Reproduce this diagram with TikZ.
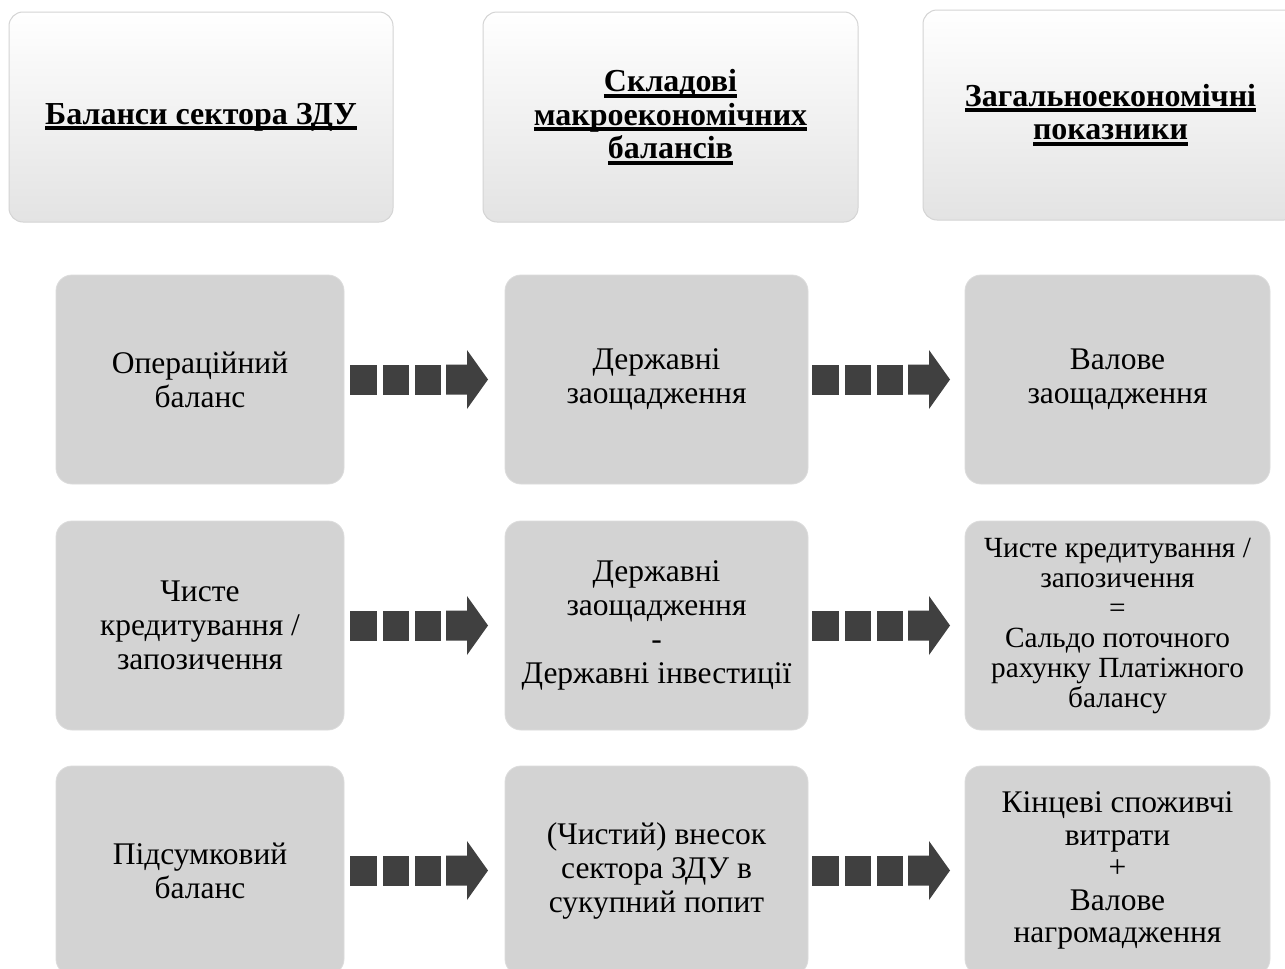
\documentclass[tikz,border=0pt]{standalone}
\usepackage{fontspec}
\setmainfont{Liberation Serif}
\usetikzlibrary{calc}
\definecolor{boxgray}{HTML}{D3D3D3}
\definecolor{boxline}{HTML}{DCDCDC}
\definecolor{arrowc}{HTML}{404040}
\definecolor{hdrline}{HTML}{D4D4D4}
\definecolor{hdrbot}{HTML}{E3E3E3}
\newcommand\hul[1]{\setbox0\hbox{#1}\rlap{\rule[-6pt]{\wd0}{4pt}}\box0}
\newcommand\blockarrow[2]{%
  \begin{scope}[shift={($(#1.east)!0.5!(#2.west)+(-5.5,0)$)}]
    \fill[arrowc] (-69,-15) rectangle (-42,15);
    \fill[arrowc] (-36,-15) rectangle (-10,15);
    \fill[arrowc] (-4,-15) rectangle (22,15);
    \fill[arrowc] (27,-15) -- (48,-15) -- (48,-29.5) -- (69,0) -- (48,29.5) -- (48,15) -- (27,15) -- cycle;
  \end{scope}}
\begin{document}
\begin{tikzpicture}[x=1pt,y=-1pt,
  hdr/.style={rectangle, rounded corners=14pt, draw=hdrline, line width=1pt,
    top color=white, middle color=white, bottom color=hdrbot,
    minimum height=210pt, align=center, inner sep=0pt,
    font=\fontsize{32}{33.5}\selectfont\bfseries},
  cell/.style={rectangle, rounded corners=16pt, fill=boxgray, draw=boxline, line width=0.8pt,
    minimum height=209pt, align=center, inner sep=0pt,
    font=\fontsize{31.5}{34}\selectfont},
  c1/.style={cell, minimum width=288pt},
  c2/.style={cell, minimum width=303pt},
  c3/.style={cell, minimum width=305pt}
]
\useasboundingbox (0,0) rectangle (1285,969);
\fill[white] (0,0) rectangle (1285,969);

\node[hdr, minimum width=384pt] (h1) at (201,117) {\hul{Баланси сектора ЗДУ}};
\node[hdr, minimum width=375pt] (h2) at (670.5,117) {\hul{Складові}\\\hul{макроекономічних}\\\hul{балансів}};
\node[hdr, minimum width=375pt] (h3) at (1110.5,115) {\hul{Загальноекономічні}\\\hul{показники}};

\node[c1] (a1) at (200,379.5) {Операційний\\баланс};
\node[c2] (b1) at (656.5,379.5) {Державні\\заощадження};
\node[c3] (d1) at (1117.5,379.5) {Валове\\заощадження};

\node[c1] (a2) at (200,625.5) {Чисте\\кредитування /\\запозичення};
\node[c2] (b2) at (656.5,625.5) {Державні\\заощадження\\-\\Державні інвестиції};
\node[c3, font=\fontsize{29.3}{30}\selectfont] (d2) at (1117.5,625.5) {Чисте кредитування /\\запозичення\\=\\Сальдо поточного\\рахунку Платіжного\\балансу};

\node[c1] (a3) at (200,870.5) {Підсумковий\\баланс};
\node[c2] (b3) at (656.5,870.5) {(Чистий) внесок\\сектора ЗДУ в\\сукупний попит};
\node[c3, font=\fontsize{31.5}{32.5}\selectfont] (d3) at (1117.5,870.5) {Кінцеві споживчі\\витрати\\+\\Валове\\нагромадження};

\blockarrow{a1}{b1}
\blockarrow{b1}{d1}
\blockarrow{a2}{b2}
\blockarrow{b2}{d2}
\blockarrow{a3}{b3}
\blockarrow{b3}{d3}
\end{tikzpicture}
\end{document}
